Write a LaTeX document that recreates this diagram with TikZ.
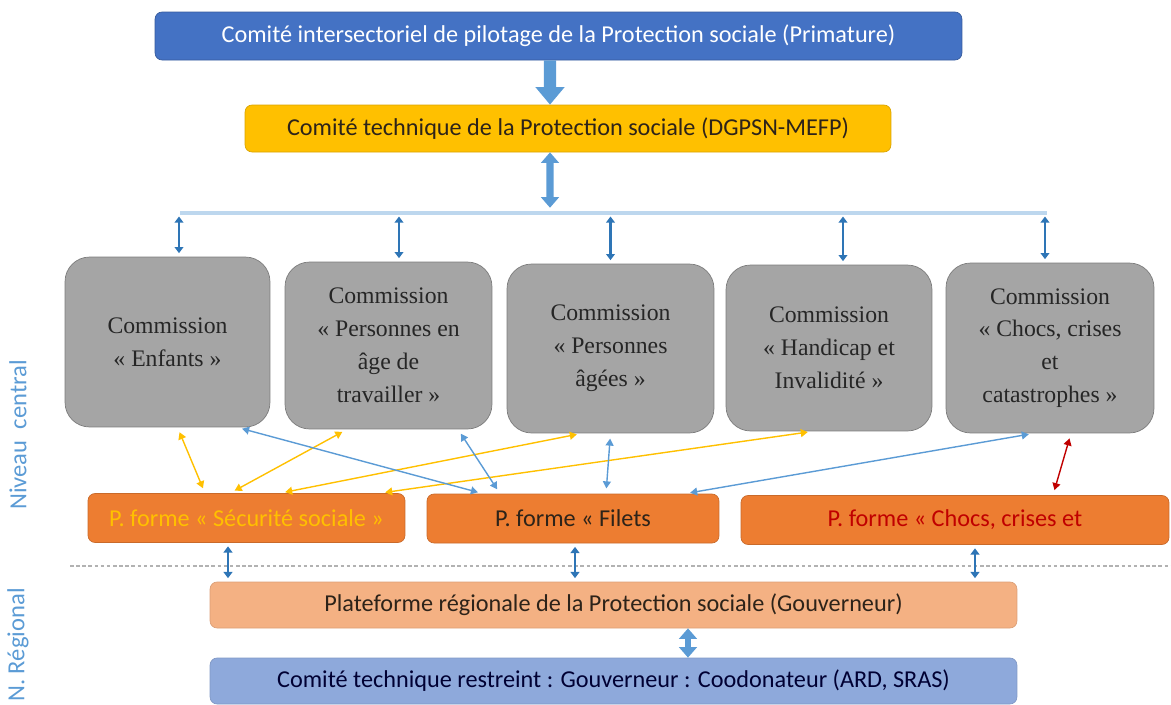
\documentclass[tikz,border=0pt]{standalone}
\usepackage{fontspec}
\setmainfont{Carlito}
\newfontfamily\comfont{Liberation Serif}
\usetikzlibrary{arrows.meta}
\definecolor{topblue}{RGB}{68,114,196}
\definecolor{techyellow}{RGB}{255,192,0}
\definecolor{comgray}{RGB}{165,165,165}
\definecolor{pforange}{RGB}{237,125,49}
\definecolor{regsalmon}{RGB}{244,177,131}
\definecolor{ctrblue}{RGB}{142,169,219}
\definecolor{arrowblue}{RGB}{91,155,213}
\definecolor{darkblue}{RGB}{46,117,182}
\definecolor{barblue}{RGB}{189,215,238}
\definecolor{redlink}{RGB}{192,0,0}
\definecolor{darktext}{RGB}{45,35,25}

\begin{document}
\begin{tikzpicture}[x=0.02cm, y=-0.02cm,
    bx/.style={draw, rounded corners=4pt, align=center, font=\fontsize{13.8}{16}\selectfont},
    com/.style={draw=comgray!75!black, fill=comgray, rounded corners=14pt, align=center, text=black!85, font=\comfont\fontsize{13.5}{18.7}\selectfont},
    pf/.style={bx, draw=pforange!85!black, fill=pforange, minimum height=0.98cm},
    big/.style={arrowblue, line width=4pt, {Triangle[length=6pt,width=10pt]}-{Triangle[length=6pt,width=10pt]}},
    small/.style={darkblue, line width=1.3pt, {Triangle[length=3.5pt,width=5pt]}-{Triangle[length=3.5pt,width=5pt]}, shorten <=2pt, shorten >=2pt},
    lnk/.style={line width=0.8pt, {Triangle[length=4pt,width=4.5pt]}-{Triangle[length=4pt,width=4.5pt]}, shorten <=3pt, shorten >=3pt},
    lab/.style={arrowblue, rotate=90, font=\fontsize{14}{16}\selectfont}
  ]
    \useasboundingbox (0,0) rectangle (1171,704);
    \node (pil) [bx, draw=topblue!80!black, fill=topblue, text=white, minimum width=16.14cm, minimum height=0.96cm] at (558.5,36) {Comité intersectoriel de pilotage de la Protection sociale (Primature)};
    \node (tech) [bx, draw=techyellow!85!black, fill=techyellow, text=darktext, minimum width=12.92cm, minimum height=0.94cm] at (568,128.5) {Comité technique de la Protection sociale (DGPSN-MEFP)};

    \node (enf) [com, minimum width=4.1cm, minimum height=3.4cm] at (167.5,342) {Commission\\« Enfants »};
    \node (pet) [com, minimum width=4.14cm, minimum height=3.34cm] at (388.5,345.5) {Commission\\« Personnes en\\âge de\\travailler »};
    \node (pa) [com, minimum width=4.14cm, minimum height=3.38cm] at (610.5,348.5) {Commission\\« Personnes\\âgées »};
    \node (hand) [com, minimum width=4.12cm, minimum height=3.32cm] at (829,348) {Commission\\« Handicap et\\Invalidité »};
    \node (chocs) [com, minimum width=4.16cm, minimum height=3.4cm] at (1050,348) {Commission\\« Chocs, crises\\et\\catastrophes »};

    \node (pss) [pf, text=techyellow, minimum width=6.34cm] at (246.5,518) {P. forme « Sécurité sociale »};
    \node (pfil) [pf, text=darktext, minimum width=5.84cm] at (573,518.5) {P. forme « Filets};
    \node (pch) [pf, text=redlink, minimum width=8.56cm] at (955,520) {P. forme « Chocs, crises et};

    \node (reg) [bx, draw=regsalmon!90!black, fill=regsalmon, text=darktext, minimum width=16.14cm, minimum height=0.92cm] at (613.5,605) {Plateforme régionale de la Protection sociale (Gouverneur)};
    \node (ctr) [bx, draw=ctrblue!90!black, fill=ctrblue, text=black!80!blue, minimum width=16.14cm, minimum height=0.92cm] at (613.5,681) {Comité technique restreint : Gouverneur : Coodonateur (ARD, SRAS)};

    \node (nc) [lab] at (18,435) {Niveau\ \ central};
    \node (nr) [lab] at (18,645) {N. Régional};

    \coordinate (bar) at (550,213);
    \coordinate (barl) at (180,213);
    \coordinate (barr) at (1047,213);
    \coordinate (dl) at (70,566);
    \coordinate (dr) at (1171,566);

    \draw[arrowblue, line width=7pt, -{Triangle[length=10pt,width=16pt]}] ([xshift=-0.17cm]pil.south) -- ([xshift=-0.36cm]tech.north);
    \draw[barblue, line width=2pt] (barl) -- (barr);
    \draw[big, shorten >=3pt] ([xshift=-0.36cm]tech.south) -- (bar);
    \draw[small] ([xshift=0.23cm]enf.north) -- ([xshift=0.23cm]enf.north |- bar);
    \draw[small] ([xshift=0.21cm]pet.north) -- ([xshift=0.21cm]pet.north |- bar);
    \draw[small] (pa.north) -- (pa.north |- bar);
    \draw[small] ([xshift=0.28cm]hand.north) -- ([xshift=0.28cm]hand.north |- bar);
    \draw[small] ([xshift=-0.1cm]chocs.north) -- ([xshift=-0.1cm]chocs.north |- bar);

    \draw[lnk, techyellow] ([xshift=0.2cm]enf.south) -- ([xshift=-0.83cm]pss.north);
    \draw[lnk, techyellow] ([xshift=-0.83cm]pet.south) -- ([xshift=-0.33cm]pss.north);
    \draw[lnk, techyellow] ([xshift=-0.57cm]pa.south) -- ([xshift=0.67cm]pss.north);
    \draw[lnk, techyellow] ([xshift=-0.32cm]hand.south) -- ([xshift=2.67cm]pss.north);
    \draw[lnk, arrowblue] ([xshift=1.39cm]enf.south) -- ([xshift=-1.8cm]pfil.north);
    \draw[lnk, arrowblue] ([xshift=1.39cm]pet.south) -- ([xshift=-1.46cm]pfil.north);
    \draw[lnk, arrowblue] (pa.south) -- ([xshift=0.66cm]pfil.north);
    \draw[lnk, arrowblue] ([xshift=-0.32cm]chocs.south) -- ([xshift=2.24cm]pfil.north);
    \draw[lnk, redlink] ([xshift=0.42cm]chocs.south) -- ([xshift=1.96cm]pch.north);

    \draw[black!30, line width=1.5pt, dash pattern=on 2pt off 1.5pt] (dl) -- (dr);
    \draw[small] ([xshift=-0.37cm]pss.south) -- ([xshift=-0.37cm]pss.south |- reg.north);
    \draw[small] ([xshift=0.04cm]pfil.south) -- ([xshift=0.04cm]pfil.south |- reg.north);
    \draw[small] ([xshift=0.4cm]pch.south) -- ([xshift=0.4cm]pch.south |- reg.north);
    \draw[big, line width=3.5pt] ([xshift=1.49cm]reg.south) -- ([xshift=1.49cm]reg.south |- ctr.north);
\end{tikzpicture}
\end{document}
